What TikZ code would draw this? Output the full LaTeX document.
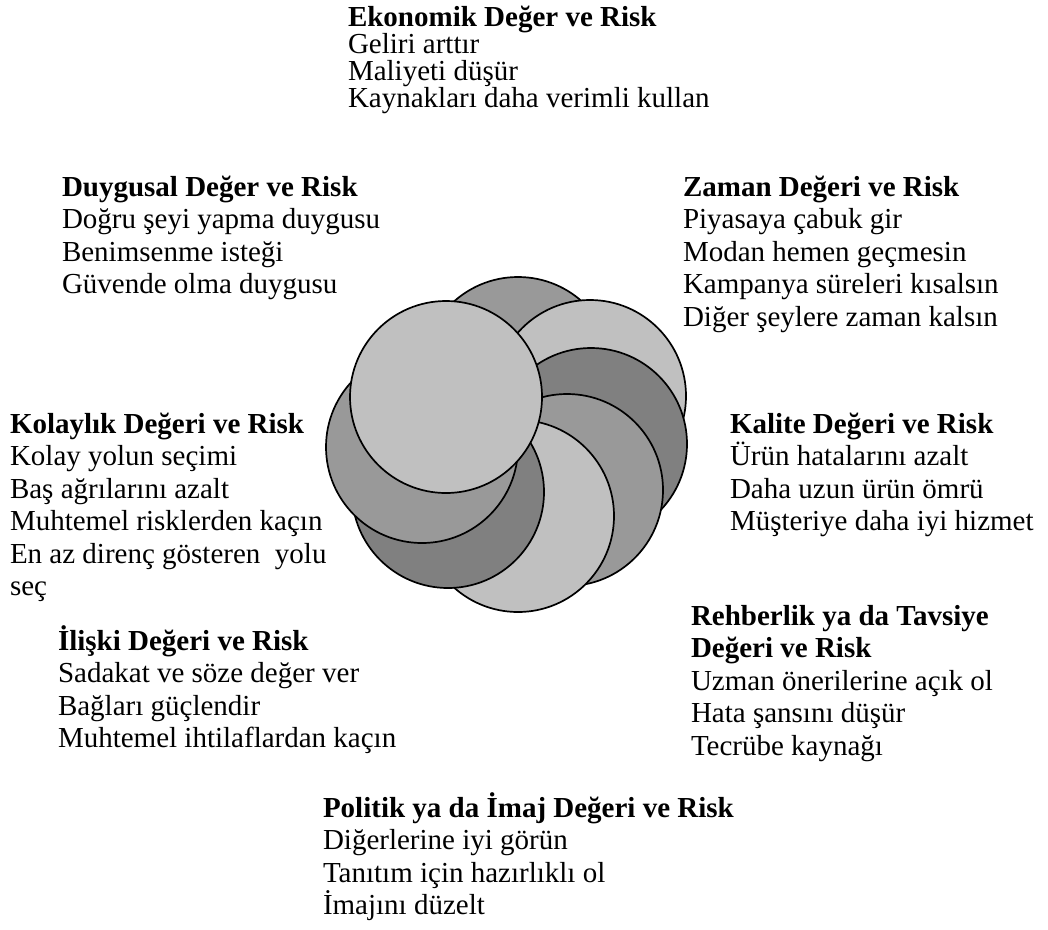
\documentclass[tikz,border=0pt]{standalone}
\usepackage{fontspec}
\setmainfont{Liberation Serif}
% one line of a text block, and a block of such lines (baseline = first line)
\newcommand{\tline}[1]{\hbox{#1}}
\newcommand{\tblock}[1]{\vtop{\fontsize{29}{32.5}\selectfont #1}}
% the heading block at the top is set with tighter leading
\newcommand{\tblocktight}[1]{\vtop{\fontsize{29}{27}\selectfont #1}}
\definecolor{petlight}{HTML}{C0C0C0}
\definecolor{petmid}{HTML}{999999}
\definecolor{petdark}{HTML}{808080}
\begin{document}
\begin{tikzpicture}[x=1pt,y=-1pt,
  petal/.style={draw=black,line width=1.7pt},
  block/.style={anchor=base west,inner sep=0pt,outer sep=0pt,text=black}]
\useasboundingbox (0,0) rectangle (1048,929);
\fill[white] (0,0) rectangle (1048,929);

% overlapping discs, drawn clockwise from the top so each covers the previous one
\filldraw[petal,fill=petmid]   (518,373) circle[radius=96];
\filldraw[petal,fill=petlight] (590,396) circle[radius=96];
\filldraw[petal,fill=petdark]  (591,444) circle[radius=96];
\filldraw[petal,fill=petmid]   (567,490) circle[radius=96];
\filldraw[petal,fill=petlight] (518,516) circle[radius=96];
\filldraw[petal,fill=petdark]  (448,492) circle[radius=96];
\filldraw[petal,fill=petmid]   (422,447) circle[radius=96];
\filldraw[petal,fill=petlight] (446,397) circle[radius=96];

% text blocks around the flower
\node[block] (eko) at (348,26) {\tblocktight{%
  \tline{\bfseries Ekonomik Değer ve Risk}
  \tline{Geliri arttır}
  \tline{Maliyeti düşür}
  \tline{Kaynakları daha verimli kullan}}};

\node[block] (duy) at (62,196) {\tblock{%
  \tline{\bfseries Duygusal Değer ve Risk}
  \tline{Doğru şeyi yapma duygusu}
  \tline{Benimsenme isteği}
  \tline{Güvende olma duygusu}}};

\node[block] (zam) at (683,196) {\tblock{%
  \tline{\bfseries Zaman Değeri ve Risk}
  \tline{Piyasaya çabuk gir}
  \tline{Modan hemen geçmesin}
  \tline{Kampanya süreleri kısalsın}
  \tline{Diğer şeylere zaman kalsın}}};

\node[block] (kol) at (10,433) {\tblock{%
  \tline{\bfseries Kolaylık Değeri ve Risk}
  \tline{Kolay yolun seçimi}
  \tline{Baş ağrılarını azalt}
  \tline{Muhtemel risklerden kaçın}
  \tline{En az direnç gösteren\ \ yolu}
  \tline{seç}}};

\node[block] (kal) at (730,433) {\tblock{%
  \tline{\bfseries Kalite Değeri ve Risk}
  \tline{Ürün hatalarını azalt}
  \tline{Daha uzun ürün ömrü}
  \tline{Müşteriye daha iyi hizmet}}};

\node[block] (ili) at (58,650) {\tblock{%
  \tline{\bfseries İlişki Değeri ve Risk}
  \tline{Sadakat ve söze değer ver}
  \tline{Bağları güçlendir}
  \tline{Muhtemel ihtilaflardan kaçın}}};

\node[block] (reh) at (691,625) {\tblock{%
  \tline{\bfseries Rehberlik ya da Tavsiye}
  \tline{\bfseries Değeri ve Risk}
  \tline{Uzman önerilerine açık ol}
  \tline{Hata şansını düşür}
  \tline{Tecrübe kaynağı}}};

\node[block] (pol) at (323,817) {\tblock{%
  \tline{\bfseries Politik ya da İmaj Değeri ve Risk}
  \tline{Diğerlerine iyi görün}
  \tline{Tanıtım için hazırlıklı ol}
  \tline{İmajını düzelt}}};
\end{tikzpicture}
\end{document}
